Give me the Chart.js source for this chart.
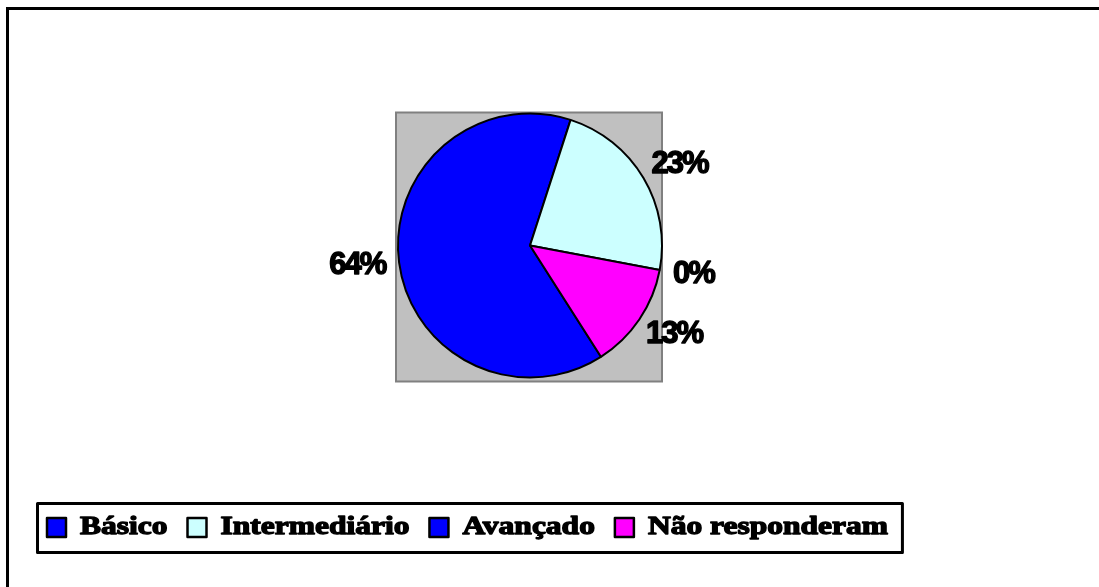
<!DOCTYPE html>
<html lang="pt">
<head>
<meta charset="utf-8">
<title>Nível de conhecimento</title>
<script src="https://cdn.jsdelivr.net/npm/chart.js@4.4.1/dist/chart.umd.min.js"></script>
<style>
  html, body { margin: 0; padding: 0; background: #fff; }
  canvas { display: block; }
</style>
</head>
<body>
<canvas id="grafico" width="1099" height="587"></canvas>
<script>
var categorias = ['Básico', 'Intermediário', 'Avançado', 'Não responderam'];
var percentuais = [64, 23, 0, 13];
var cores = ['#0000ff', '#ccffff', '#0000ff', '#ff00ff'];

// moldura do gráfico, fundo cinza da área de plotagem, rótulos e legenda
var moldura = {
    id: 'moldura',
    beforeDatasetsDraw: function(chart) {
        var ctx = chart.ctx;
        var arc = chart.getDatasetMeta(0).data[0];
        var cx = arc.x, cy = arc.y, r = arc.outerRadius;
        ctx.save();
        // borda externa
        ctx.strokeStyle = '#000';
        ctx.lineWidth = 3;
        ctx.strokeRect(7.5, 8.5, 1200, 700);
        // área de plotagem
        ctx.fillStyle = '#c0c0c0';
        ctx.fillRect(cx - r - 2, cy - r - 1, 2 * r + 2, 2 * r + 5);
        ctx.strokeStyle = '#808080';
        ctx.lineWidth = 2;
        ctx.strokeRect(cx - r - 2, cy - r - 1, 2 * r + 2, 2 * r + 5);
        ctx.restore();
    },
    afterDraw: function(chart) {
        var ctx = chart.ctx;
        var meta = chart.getDatasetMeta(0);
        ctx.save();

        // rótulos de porcentagem fora das fatias
        ctx.font = 'bold 31px "Liberation Sans", Arial, sans-serif';
        ctx.letterSpacing = '-2px';
        ctx.fillStyle = '#000';
        ctx.strokeStyle = '#000';
        ctx.lineWidth = 1.4;
        ctx.lineJoin = 'round';
        ctx.textAlign = 'center';
        ctx.textBaseline = 'middle';
        meta.data.forEach(function(arc, i) {
            var p = arc.getProps(['x', 'y', 'startAngle', 'endAngle', 'outerRadius'], true);
            var meio = (p.startAngle + p.endAngle) / 2;
            var dx = Math.cos(meio), dy = Math.sin(meio);
            var texto = percentuais[i] + '%';
            var w = ctx.measureText(texto).width, h = 25;
            var d = p.outerRadius + 14;
            var tx = p.x + dx * d + dx * w / 2;
            var ty = p.y + dy * d + dy * h / 2;
            ctx.fillText(texto, tx, ty);
            ctx.strokeText(texto, tx, ty);
        });

        // legenda
        ctx.letterSpacing = '0px';
        ctx.font = 'bold 25px "Liberation Serif", "Times New Roman", serif';
        ctx.textAlign = 'left';
        ctx.textBaseline = 'alphabetic';
        var escala = 1.26;
        var x = 47, topo = 503, altura = 49, base = 534;
        var inicio = x;
        categorias.forEach(function(nome, i) {
            ctx.fillStyle = cores[i];
            ctx.fillRect(x, 518, 19, 19);
            ctx.strokeStyle = '#000';
            ctx.lineWidth = 2.5;
            ctx.strokeRect(x, 518, 19, 19);
            var tx = x + 33;
            ctx.save();
            ctx.translate(tx, base);
            ctx.scale(escala, 1);
            ctx.fillStyle = '#000';
            ctx.lineWidth = 1.3;
            ctx.lineJoin = 'round';
            ctx.fillText(nome, 0, 0);
            ctx.strokeText(nome, 0, 0);
            ctx.restore();
            x = tx + ctx.measureText(nome).width * escala + 20;
        });
        var fim = x - 20 + 14;
        ctx.strokeStyle = '#000';
        ctx.lineWidth = 3;
        ctx.strokeRect(inicio - 10 + 0.5, topo + 0.5, fim - inicio + 10, altura);
        ctx.restore();
    }
};

var ctx = document.getElementById('grafico').getContext('2d');
var grafico = new Chart(ctx, {
    type: 'pie',
    data: {
        labels: categorias,
        datasets: [{
            data: percentuais,
            backgroundColor: cores,
            borderColor: '#000',
            borderWidth: 2
        }]
    },
    options: {
        responsive: false,
        animation: false,
        rotation: 147.5,
        layout: {
            padding: { left: 397, right: 436, top: 112, bottom: 208 }
        },
        plugins: {
            legend: { display: false },
            tooltip: { enabled: false }
        }
    },
    plugins: [moldura]
});
</script>
</body>
</html>
